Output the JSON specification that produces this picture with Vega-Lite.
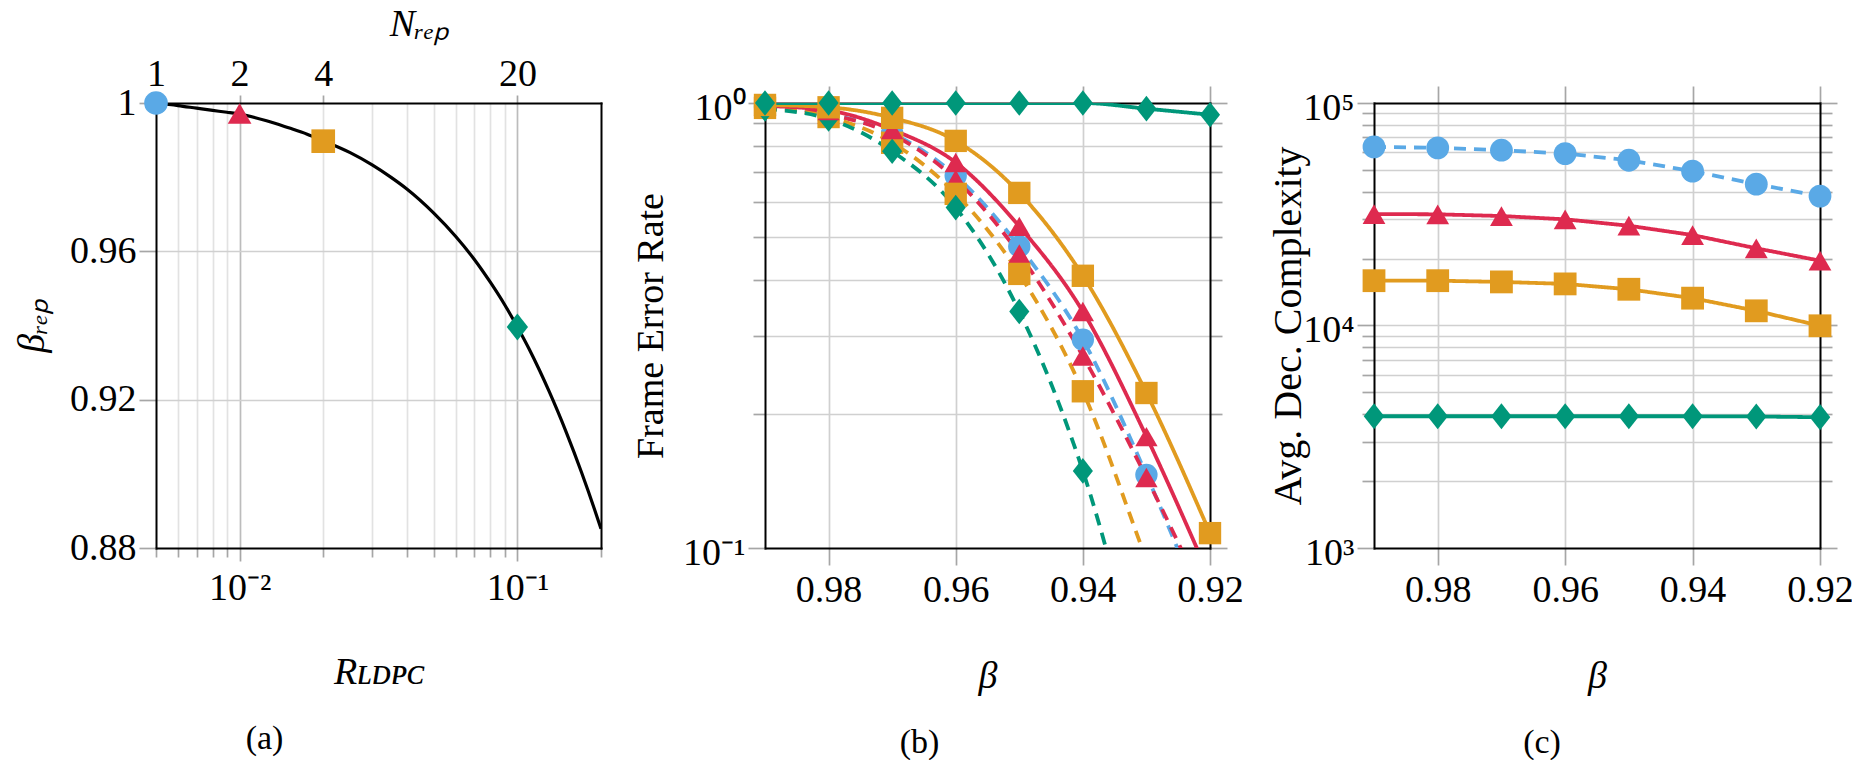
{
  "$schema": "https://vega.github.io/schema/vega-lite/v6.json",
  "padding": {"left": 13, "top": 5, "right": 0, "bottom": 0},
  "background": "white",
  "spacing": 164,
  "bounds": "flush",
  "resolve": {"scale": {"color": "independent", "shape": "independent", "strokeDash": "independent"}},
  "config": {
    "font": "Liberation Serif",
    "view": {"stroke": null},
    "axis": {
      "labelFont": "Liberation Serif", "labelFontSize": 38, "labelColor": "#000",
      "titleFont": "Liberation Serif", "titleFontSize": 38, "titleFontWeight": "normal", "titleColor": "#000",
      "gridColor": "#d0d0d0", "gridWidth": 1.7,
      "tickColor": "#a6a6a6", "tickWidth": 1.7,
      "domainColor": "#000", "domainWidth": 2, "domainCap": "square",
      "labelFlush": false, "labelOverlap": false
    },
    "title": {"font": "Liberation Serif", "fontSize": 34, "fontWeight": "normal", "color": "#000"}
  },
  "datasets": {
    "curveA": [
      {"R": 0.005, "b": 1.0}, {"R": 0.006, "b": 0.9993}, {"R": 0.007, "b": 0.9986}, {"R": 0.008, "b": 0.998},
      {"R": 0.009, "b": 0.9975}, {"R": 0.01, "b": 0.997}, {"R": 0.0125, "b": 0.9952}, {"R": 0.015, "b": 0.9933},
      {"R": 0.0175, "b": 0.9916}, {"R": 0.02, "b": 0.9898}, {"R": 0.025, "b": 0.9866}, {"R": 0.03, "b": 0.9833},
      {"R": 0.035, "b": 0.98}, {"R": 0.04, "b": 0.9768}, {"R": 0.05, "b": 0.9703}, {"R": 0.06, "b": 0.964},
      {"R": 0.07, "b": 0.9578}, {"R": 0.08, "b": 0.9516}, {"R": 0.09, "b": 0.9456}, {"R": 0.1, "b": 0.9396},
      {"R": 0.11, "b": 0.9338}, {"R": 0.12, "b": 0.928}, {"R": 0.13, "b": 0.9223}, {"R": 0.14, "b": 0.9167},
      {"R": 0.15, "b": 0.9112}, {"R": 0.16, "b": 0.9058}, {"R": 0.17, "b": 0.9005}, {"R": 0.18, "b": 0.8953},
      {"R": 0.19, "b": 0.8902}, {"R": 0.2, "b": 0.8852}
    ],
    "ptsA": [
      {"s": "N1", "R": 0.005, "b": 1.0},
      {"s": "N2", "R": 0.01, "b": 0.9972},
      {"s": "N4", "R": 0.02, "b": 0.9897},
      {"s": "N20", "R": 0.1, "b": 0.9396}
    ],
    "fer": [
      {"s": "N1 dashed", "beta": 0.99, "v": 0.98}, {"s": "N1 dashed", "beta": 0.98, "v": 0.945}, {"s": "N1 dashed", "beta": 0.97, "v": 0.855}, {"s": "N1 dashed", "beta": 0.96, "v": 0.686},
      {"s": "N1 dashed", "beta": 0.95, "v": 0.476}, {"s": "N1 dashed", "beta": 0.94, "v": 0.294}, {"s": "N1 dashed", "beta": 0.93, "v": 0.146}, {"s": "N1 dashed", "beta": 0.92, "v": 0.0658},
      {"s": "N2 dashed", "beta": 0.99, "v": 0.98}, {"s": "N2 dashed", "beta": 0.98, "v": 0.943}, {"s": "N2 dashed", "beta": 0.97, "v": 0.85}, {"s": "N2 dashed", "beta": 0.96, "v": 0.673},
      {"s": "N2 dashed", "beta": 0.95, "v": 0.458}, {"s": "N2 dashed", "beta": 0.94, "v": 0.27}, {"s": "N2 dashed", "beta": 0.93, "v": 0.144}, {"s": "N2 dashed", "beta": 0.92, "v": 0.0726},
      {"s": "N4 dashed", "beta": 0.99, "v": 0.975}, {"s": "N4 dashed", "beta": 0.98, "v": 0.93}, {"s": "N4 dashed", "beta": 0.97, "v": 0.814}, {"s": "N4 dashed", "beta": 0.96, "v": 0.625},
      {"s": "N4 dashed", "beta": 0.95, "v": 0.413}, {"s": "N4 dashed", "beta": 0.94, "v": 0.225}, {"s": "N4 dashed", "beta": 0.93, "v": 0.094}, {"s": "N4 dashed", "beta": 0.92, "v": 0.039},
      {"s": "N20 dashed", "beta": 0.99, "v": 0.97}, {"s": "N20 dashed", "beta": 0.98, "v": 0.921}, {"s": "N20 dashed", "beta": 0.97, "v": 0.779}, {"s": "N20 dashed", "beta": 0.96, "v": 0.582},
      {"s": "N20 dashed", "beta": 0.95, "v": 0.34}, {"s": "N20 dashed", "beta": 0.94, "v": 0.149}, {"s": "N20 dashed", "beta": 0.93, "v": 0.0464}, {"s": "N20 dashed", "beta": 0.92, "v": 0.0145},
      {"s": "N2 solid", "beta": 0.99, "v": 0.985}, {"s": "N2 solid", "beta": 0.98, "v": 0.962}, {"s": "N2 solid", "beta": 0.97, "v": 0.871}, {"s": "N2 solid", "beta": 0.96, "v": 0.735},
      {"s": "N2 solid", "beta": 0.95, "v": 0.528}, {"s": "N2 solid", "beta": 0.94, "v": 0.34}, {"s": "N2 solid", "beta": 0.93, "v": 0.178}, {"s": "N2 solid", "beta": 0.92, "v": 0.0855},
      {"s": "N4 solid", "beta": 0.99, "v": 0.99}, {"s": "N4 solid", "beta": 0.98, "v": 0.978}, {"s": "N4 solid", "beta": 0.97, "v": 0.926}, {"s": "N4 solid", "beta": 0.96, "v": 0.822},
      {"s": "N4 solid", "beta": 0.95, "v": 0.628}, {"s": "N4 solid", "beta": 0.94, "v": 0.409}, {"s": "N4 solid", "beta": 0.93, "v": 0.223}, {"s": "N4 solid", "beta": 0.92, "v": 0.108},
      {"s": "N20 solid", "beta": 0.99, "v": 1.0}, {"s": "N20 solid", "beta": 0.98, "v": 1.0}, {"s": "N20 solid", "beta": 0.97, "v": 1.0}, {"s": "N20 solid", "beta": 0.96, "v": 1.0},
      {"s": "N20 solid", "beta": 0.95, "v": 1.0}, {"s": "N20 solid", "beta": 0.94, "v": 1.0}, {"s": "N20 solid", "beta": 0.93, "v": 0.971}, {"s": "N20 solid", "beta": 0.92, "v": 0.941}
    ],
    "cx": [
      {"s": "N1 dashed", "beta": 0.99, "v": 63500}, {"s": "N1 dashed", "beta": 0.98, "v": 62850}, {"s": "N1 dashed", "beta": 0.97, "v": 61350}, {"s": "N1 dashed", "beta": 0.96, "v": 59250},
      {"s": "N1 dashed", "beta": 0.95, "v": 55300}, {"s": "N1 dashed", "beta": 0.94, "v": 49400}, {"s": "N1 dashed", "beta": 0.93, "v": 43180}, {"s": "N1 dashed", "beta": 0.92, "v": 38150},
      {"s": "N2 solid", "beta": 0.99, "v": 31700}, {"s": "N2 solid", "beta": 0.98, "v": 31600}, {"s": "N2 solid", "beta": 0.97, "v": 31050}, {"s": "N2 solid", "beta": 0.96, "v": 30000},
      {"s": "N2 solid", "beta": 0.95, "v": 28080}, {"s": "N2 solid", "beta": 0.94, "v": 25500}, {"s": "N2 solid", "beta": 0.93, "v": 22230}, {"s": "N2 solid", "beta": 0.92, "v": 19560},
      {"s": "N4 solid", "beta": 0.99, "v": 15900}, {"s": "N4 solid", "beta": 0.98, "v": 15900}, {"s": "N4 solid", "beta": 0.97, "v": 15700}, {"s": "N4 solid", "beta": 0.96, "v": 15380},
      {"s": "N4 solid", "beta": 0.95, "v": 14550}, {"s": "N4 solid", "beta": 0.94, "v": 13270}, {"s": "N4 solid", "beta": 0.93, "v": 11640}, {"s": "N4 solid", "beta": 0.92, "v": 9970},
      {"s": "N20 solid", "beta": 0.99, "v": 3910}, {"s": "N20 solid", "beta": 0.98, "v": 3910}, {"s": "N20 solid", "beta": 0.97, "v": 3910}, {"s": "N20 solid", "beta": 0.96, "v": 3910},
      {"s": "N20 solid", "beta": 0.95, "v": 3910}, {"s": "N20 solid", "beta": 0.94, "v": 3910}, {"s": "N20 solid", "beta": 0.93, "v": 3900}, {"s": "N20 solid", "beta": 0.92, "v": 3870}
    ]
  },
  "hconcat": [
    {
      "width": 445, "height": 445,
      "title": {"text": "(a)", "orient": "bottom", "frame": "group", "offset": 31, "dx": -114},
      "resolve": {"axis": {"x": "independent", "y": "independent"}},
      "layer": [
        {
          "data": {"name": "curveA"},
          "mark": {"type": "line", "color": "#000", "strokeWidth": 3.2, "interpolate": "monotone", "clip": true},
          "encoding": {
            "x": {"field": "R", "type": "quantitative",
              "scale": {"type": "log", "domain": [0.005, 0.2], "nice": false},
              "axis": {"orient": "bottom", "values": [0.005, 0.006, 0.007, 0.008, 0.009, 0.01, 0.02, 0.03, 0.04, 0.05, 0.06, 0.07, 0.08, 0.09, 0.1, 0.2],
                "labelExpr": "datum.value == 0.01 ? '10⁻²' : (datum.value == 0.1 ? '10⁻¹' : '')",
                "tickSize": {"condition": {"test": "datum.value == 0.01 || datum.value == 0.1", "value": 13}, "value": 9},
                "labelPadding": 8,
                "grid": true,
                "gridColor": {"condition": {"test": "datum.value == 0.01 || datum.value == 0.1", "value": "#bcbcbc"}, "value": "#e2e2e2"},
                "gridOpacity": {"condition": {"test": "datum.value < 0.0051 || datum.value > 0.19", "value": 0}, "value": 1},
                "title": "Rʟᴅᴘᴄ", "titleFontStyle": "italic", "titlePadding": 46}},
            "y": {"field": "b", "type": "quantitative",
              "scale": {"domain": [0.88, 1.0], "nice": false, "zero": false},
              "axis": {"orient": "left", "values": [0.88, 0.92, 0.96, 1.0],
                "labelExpr": "datum.value == 1 ? '1' : format(datum.value, '.2f')",
                "tickSize": 17, "labelPadding": 3,
                "grid": true,
                "gridOpacity": {"condition": {"test": "datum.value < 0.881 || datum.value > 0.999", "value": 0}, "value": 1},
                "title": "βᵣₑₚ", "titleFontStyle": "italic", "titlePadding": 18}}
          }
        },
        {
          "data": {"name": "ptsA"},
          "mark": {"type": "point", "filled": true, "size": 560, "opacity": 1},
          "encoding": {
            "x": {"field": "R", "type": "quantitative",
              "axis": {"orient": "top", "values": [0.005, 0.01, 0.02, 0.1],
                "labelExpr": "datum.value == 0.005 ? '1' : (datum.value == 0.01 ? '2' : (datum.value == 0.02 ? '4' : '20'))",
                "tickSize": 8, "labelPadding": 2, "grid": false,
                "title": "Nᵣₑₚ", "titleFontStyle": "italic", "titlePadding": 12, "titleX": 263}},
            "y": {"field": "b", "type": "quantitative",
              "axis": {"orient": "right", "labels": false, "ticks": false, "grid": false, "title": null}},
            "color": {"field": "s", "type": "nominal", "legend": null,
              "scale": {"domain": ["N1", "N2", "N4", "N20"], "range": ["#5AA9E6", "#DE2A4F", "#E19B1F", "#00977A"]}},
            "shape": {"field": "s", "type": "nominal", "legend": null,
              "scale": {"domain": ["N1", "N2", "N4", "N20"], "range": ["circle", "triangle-up", "square", "M0,-1.15L0.9,0L0,1.15L-0.9,0Z"]}}
          }
        }
      ]
    },
    {
      "width": 445, "height": 445,
      "title": {"text": "(b)", "orient": "bottom", "frame": "group", "offset": 31, "dx": -68},
      "resolve": {"axis": {"x": "independent", "y": "independent"}},
      "layer": [
        {
          "data": {"name": "fer"},
          "mark": {"type": "line", "strokeWidth": 3.8, "interpolate": "monotone", "clip": true},
          "encoding": {
            "x": {"field": "beta", "type": "quantitative",
              "scale": {"domain": [0.92, 0.99], "reverse": true, "nice": false, "zero": false},
              "axis": {"orient": "bottom", "values": [0.98, 0.96, 0.94, 0.92], "format": ".2f",
                "tickSize": 17, "labelPadding": 6, "grid": true,
                "gridOpacity": {"condition": {"test": "datum.value < 0.921", "value": 0}, "value": 1},
                "title": "β", "titleFontStyle": "italic", "titlePadding": 48}},
            "y": {"field": "v", "type": "quantitative",
              "scale": {"type": "log", "domain": [0.1, 1], "nice": false},
              "axis": {"orient": "left", "values": [0.1, 0.2, 0.3, 0.4, 0.5, 0.6, 0.7, 0.8, 0.9, 1],
                "labelExpr": "datum.value == 1 ? '10⁰' : (datum.value == 0.1 ? '10⁻¹' : '')",
                "tickSize": {"condition": {"test": "datum.value == 1 || datum.value == 0.1", "value": 17}, "value": 12},
                "labelPadding": 3, "labelOffset": 5, "grid": true,
                "gridOpacity": {"condition": {"test": "datum.value == 1 || datum.value == 0.1", "value": 0}, "value": 1},
                "title": "Frame Error Rate", "titlePadding": 12}},
            "color": {"field": "s", "type": "nominal", "legend": null,
              "scale": {"domain": ["N1 dashed", "N2 dashed", "N4 dashed", "N20 dashed", "N2 solid", "N4 solid", "N20 solid"],
                "range": ["#5AA9E6", "#DE2A4F", "#E19B1F", "#00977A", "#DE2A4F", "#E19B1F", "#00977A"]}},
            "strokeDash": {"field": "s", "type": "nominal", "legend": null,
              "scale": {"domain": ["N1 dashed", "N2 dashed", "N4 dashed", "N20 dashed", "N2 solid", "N4 solid", "N20 solid"],
                "range": [[12, 8], [12, 8], [12, 8], [12, 8], [1, 0], [1, 0], [1, 0]]}}
          }
        },
        {
          "data": {"name": "fer"},
          "transform": [{"filter": "datum.v >= 0.1"}],
          "mark": {"type": "point", "filled": true, "size": 500, "opacity": 1},
          "encoding": {
            "x": {"field": "beta", "type": "quantitative",
              "axis": {"orient": "top", "values": [0.98, 0.96, 0.94, 0.92], "labels": false, "grid": false, "tickSize": 17, "title": null}},
            "y": {"field": "v", "type": "quantitative",
              "axis": {"orient": "right", "values": [0.1, 0.2, 0.3, 0.4, 0.5, 0.6, 0.7, 0.8, 0.9, 1], "labels": false, "grid": false,
                "tickSize": {"condition": {"test": "datum.value == 1 || datum.value == 0.1", "value": 17}, "value": 12}, "title": null}},
            "color": {"field": "s", "type": "nominal", "legend": null},
            "shape": {"field": "s", "type": "nominal", "legend": null,
              "scale": {"domain": ["N1 dashed", "N2 dashed", "N4 dashed", "N20 dashed", "N2 solid", "N4 solid", "N20 solid"],
                "range": ["circle", "triangle-up", "square", "M0,-1.15L0.9,0L0,1.15L-0.9,0Z", "triangle-up", "square", "M0,-1.15L0.9,0L0,1.15L-0.9,0Z"]}}
          }
        }
      ]
    },
    {
      "width": 446, "height": 445,
      "title": {"text": "(c)", "orient": "bottom", "frame": "group", "offset": 31, "dx": -55},
      "resolve": {"axis": {"x": "independent", "y": "independent"}},
      "layer": [
        {
          "data": {"name": "cx"},
          "mark": {"type": "line", "strokeWidth": 3.8, "clip": true},
          "encoding": {
            "x": {"field": "beta", "type": "quantitative",
              "scale": {"domain": [0.92, 0.99], "reverse": true, "nice": false, "zero": false},
              "axis": {"orient": "bottom", "values": [0.98, 0.96, 0.94, 0.92], "format": ".2f",
                "tickSize": 17, "labelPadding": 6, "grid": true,
                "gridOpacity": {"condition": {"test": "datum.value < 0.921", "value": 0}, "value": 1},
                "title": "β", "titleFontStyle": "italic", "titlePadding": 48}},
            "y": {"field": "v", "type": "quantitative",
              "scale": {"type": "log", "domain": [1000, 100000], "nice": false},
              "axis": {"orient": "left", "values": [1000, 2000, 3000, 4000, 5000, 6000, 7000, 8000, 9000, 10000, 20000, 30000, 40000, 50000, 60000, 70000, 80000, 90000, 100000],
                "labelExpr": "datum.value == 1000 ? '10³' : (datum.value == 10000 ? '10⁴' : (datum.value == 100000 ? '10⁵' : ''))",
                "tickSize": {"condition": {"test": "datum.value == 1000 || datum.value == 10000 || datum.value == 100000", "value": 17}, "value": 12},
                "labelPadding": 3, "labelOffset": 5, "grid": true,
                "gridOpacity": {"condition": {"test": "datum.value == 1000 || datum.value == 100000", "value": 0}, "value": 1},
                "title": "Avg. Dec. Complexity", "titleFontSize": 40, "titlePadding": -6}},
            "color": {"field": "s", "type": "nominal", "legend": null,
              "scale": {"domain": ["N1 dashed", "N2 solid", "N4 solid", "N20 solid"], "range": ["#5AA9E6", "#DE2A4F", "#E19B1F", "#00977A"]}},
            "strokeDash": {"field": "s", "type": "nominal", "legend": null,
              "scale": {"domain": ["N1 dashed", "N2 solid", "N4 solid", "N20 solid"], "range": [[12, 8], [1, 0], [1, 0], [1, 0]]}}
          }
        },
        {
          "data": {"name": "cx"},
          "mark": {"type": "point", "filled": true, "size": 520, "opacity": 1},
          "encoding": {
            "x": {"field": "beta", "type": "quantitative",
              "axis": {"orient": "top", "values": [0.98, 0.96, 0.94, 0.92], "labels": false, "grid": false, "tickSize": 17, "title": null}},
            "y": {"field": "v", "type": "quantitative",
              "axis": {"orient": "right", "values": [1000, 2000, 3000, 4000, 5000, 6000, 7000, 8000, 9000, 10000, 20000, 30000, 40000, 50000, 60000, 70000, 80000, 90000, 100000], "labels": false, "grid": false,
                "tickSize": {"condition": {"test": "datum.value == 1000 || datum.value == 10000 || datum.value == 100000", "value": 17}, "value": 12}, "title": null}},
            "color": {"field": "s", "type": "nominal", "legend": null},
            "shape": {"field": "s", "type": "nominal", "legend": null,
              "scale": {"domain": ["N1 dashed", "N2 solid", "N4 solid", "N20 solid"], "range": ["circle", "triangle-up", "square", "M0,-1.15L0.9,0L0,1.15L-0.9,0Z"]}}
          }
        }
      ]
    }
  ]
}
